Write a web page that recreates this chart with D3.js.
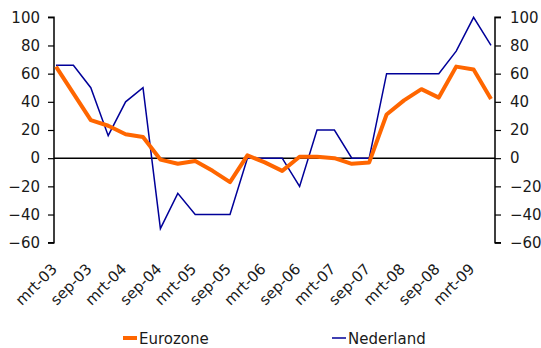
<!DOCTYPE html>
<html><head><meta charset="utf-8">
<script src="https://cdn.jsdelivr.net/npm/d3@7"></script>
<style>body{margin:0;background:#fff;} text{font-family:"DejaVu Sans",Verdana,sans-serif;fill:#1a1a1a;}</style>
</head><body>
<svg id="c" width="541" height="348"></svg>
<script>
const quarters = ["mrt-03","jun-03","sep-03","dec-03","mrt-04","jun-04","sep-04","dec-04","mrt-05","jun-05","sep-05","dec-05","mrt-06","jun-06","sep-06","dec-06","mrt-07","jun-07","sep-07","dec-07","mrt-08","jun-08","sep-08","dec-08","mrt-09","jun-09"];
const eurozone = [65,46,27,23,17,15,-1,-4,-2,-9,-17,2,-3,-9,1,1,0,-4,-3,31,41,49,43,65,63,42];
const nederland = [66,66,50,16,40,50,-50,-25,-40,-40,-40,0,0,0,-20,20,20,0,0,60,60,60,60,76,100,80];
const yTicks = [-60,-40,-20,0,20,40,60,80,100];
const xLabels = quarters.filter((d,i)=>i%2===0);
const seriesNames = ["Eurozone","Nederland"];
const colors = ["#ff6600","#000099"];

const svg = d3.select("#c");
const L = 54, R = 495, T = 17.3, B = 242.7;
const x = d3.scalePoint().domain(quarters).range([56, 491]);
const y = d3.scaleLinear().domain([-60,100]).range([B, T]);

// left axis
const la = svg.append("g").attr("transform",`translate(${L},0)`).call(d3.axisLeft(y).tickValues(yTicks).tickSize(6).tickPadding(8));
const ra = svg.append("g").attr("transform",`translate(${R},0)`).call(d3.axisRight(y).tickValues(yTicks).tickSize(6).tickPadding(9));
[la,ra].forEach(a=>{
  a.select(".domain").attr("stroke","#000").attr("stroke-width",1.5).attr("d", a===la ? `M-6,${T}H0V${B}H-6` : `M6,${T}H0V${B}H6`);
  a.selectAll(".tick line").attr("stroke","#000").attr("stroke-width",1.2);
  a.selectAll("text").style("font-size","15px").attr("fill","#1a1a1a").style("font-family","DejaVu Sans");
});

// zero line
svg.append("line").attr("x1",L).attr("x2",R).attr("y1",y(0)).attr("y2",y(0)).attr("stroke","#000").attr("stroke-width",1.5);

// x labels
svg.append("g").selectAll("text").data(xLabels).join("text")
  .attr("transform",d=>`translate(${x(d)+2},270) rotate(-45)`)
  .attr("text-anchor","end").style("font-size","15px").text(d=>d);

// lines
const line = vals => d3.line().x((d,i)=>x(quarters[i])).y(d=>y(d))(vals);
svg.append("path").attr("d",line(nederland)).attr("fill","none").attr("stroke",colors[1]).attr("stroke-width",1.5).attr("stroke-linejoin","miter");
svg.append("path").attr("d",line(eurozone)).attr("fill","none").attr("stroke",colors[0]).attr("stroke-width",4).attr("stroke-linejoin","round");

// legend
const leg = [{x:123, n:0},{x:332,n:1}];
leg.forEach(l=>{
  svg.append("line").attr("x1",l.x).attr("x2",l.x+14).attr("y1",338).attr("y2",338).attr("stroke",colors[l.n]).attr("stroke-width",l.n===0?4:1.5);
  svg.append("text").attr("x",l.x+16).attr("y",343.5).style("font-size","15px").text(seriesNames[l.n]);
});
</script>
</body></html>
